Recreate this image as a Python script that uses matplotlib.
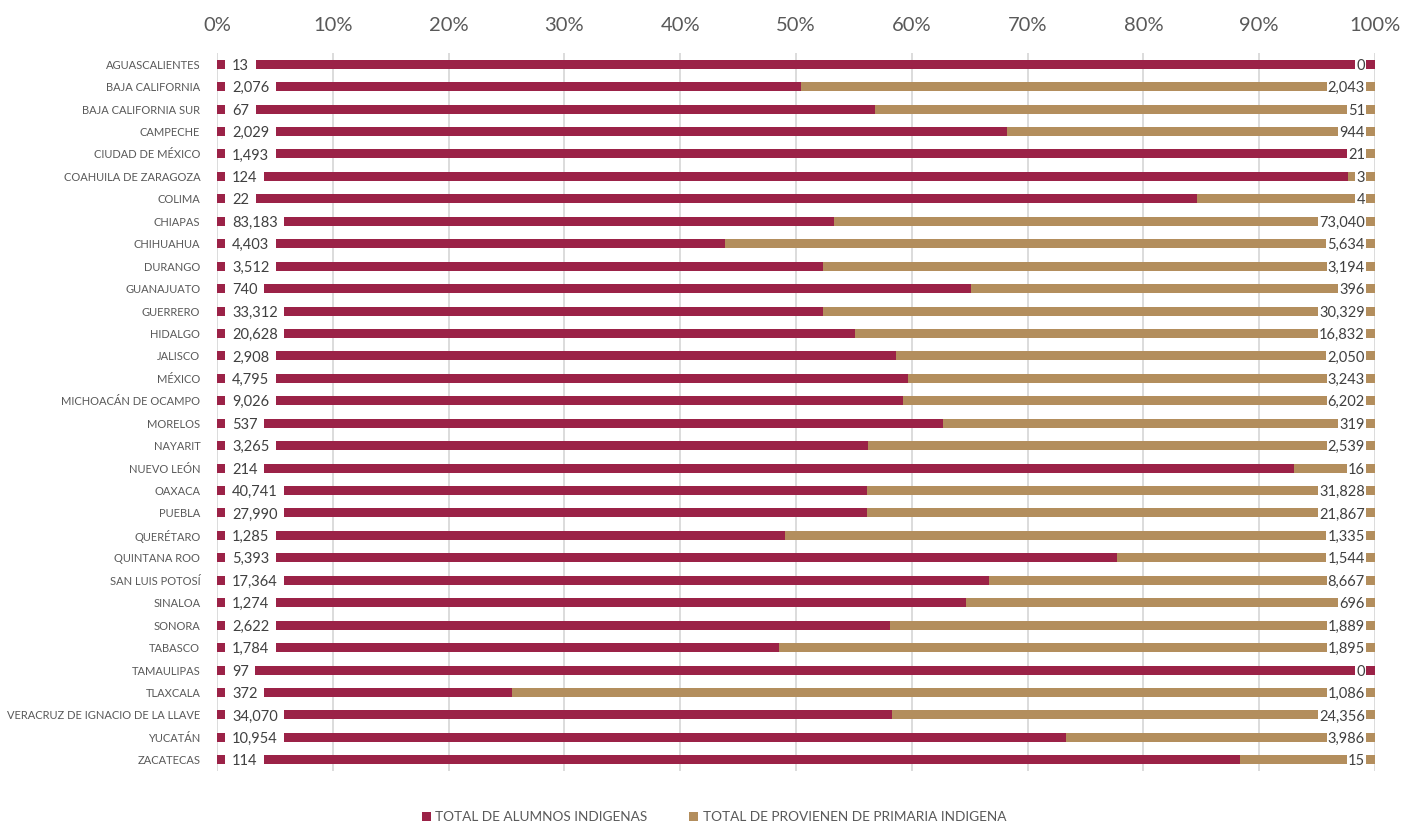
import matplotlib
matplotlib.use("Agg")
import matplotlib.pyplot as plt
from matplotlib.patches import Patch
import numpy as np

states = ["AGUASCALIENTES", "BAJA CALIFORNIA", "BAJA CALIFORNIA SUR", "CAMPECHE",
          "CIUDAD DE MÉXICO", "COAHUILA DE ZARAGOZA", "COLIMA", "CHIAPAS", "CHIHUAHUA",
          "DURANGO", "GUANAJUATO", "GUERRERO", "HIDALGO", "JALISCO", "MÉXICO",
          "MICHOACÁN DE OCAMPO", "MORELOS", "NAYARIT", "NUEVO LEÓN", "OAXACA", "PUEBLA",
          "QUERÉTARO", "QUINTANA ROO", "SAN LUIS POTOSÍ", "SINALOA", "SONORA", "TABASCO",
          "TAMAULIPAS", "TLAXCALA", "VERACRUZ DE IGNACIO DE LA LLAVE", "YUCATÁN", "ZACATECAS"]
alumnos = [13, 2076, 67, 2029, 1493, 124, 22, 83183, 4403, 3512, 740, 33312, 20628, 2908,
           4795, 9026, 537, 3265, 214, 40741, 27990, 1285, 5393, 17364, 1274, 2622, 1784,
           97, 372, 34070, 10954, 114]
primaria = [0, 2043, 51, 944, 21, 3, 4, 73040, 5634, 3194, 396, 30329, 16832, 2050,
            3243, 6202, 319, 2539, 16, 31828, 21867, 1335, 1544, 8667, 696, 1889, 1895,
            0, 1086, 24356, 3986, 15]
series_names = ["TOTAL DE ALUMNOS INDIGENAS", "TOTAL DE PROVIENEN DE PRIMARIA INDIGENA"]
xtick_labels = ["0%", "10%", "20%", "30%", "40%", "50%", "60%", "70%", "80%", "90%", "100%"]

MAROON = "#9B2247"
TAN = "#B38E5D"
GRAY = "#595959"
FONT = ["Lato", "DejaVu Sans"]

a = np.array(alumnos, dtype=float)
p = np.array(primaria, dtype=float)
tot = a + p
pa = a / tot
pp = p / tot

fig = plt.figure(figsize=(14.05, 8.25), dpi=100)
ax = fig.add_axes([217/1405, 1 - 771/825, (1375-217)/1405, (771-53)/825])

y = np.arange(len(states))
h = 0.4
ax.barh(y, pa, height=h, color=MAROON, zorder=2)
ax.barh(y, pp, left=pa, height=h, color=TAN, zorder=2)

for i in range(len(states)):
    ax.annotate(f"{alumnos[i]:,}", xy=(0, y[i]), xytext=(15, 0), textcoords="offset pixels",
                ha="left", va="center_baseline", fontsize=10.5, color="#404040", family=FONT,
                zorder=4,
                bbox=dict(boxstyle="square,pad=0.45", facecolor="white", edgecolor="none"))
    ax.annotate(f"{primaria[i]:,}", xy=(1, y[i]), xytext=(-10, 0), textcoords="offset pixels",
                ha="right", va="center_baseline", fontsize=10.5, color="#404040", family=FONT,
                zorder=4,
                bbox=dict(boxstyle="square,pad=0.08", facecolor="white", edgecolor="none"))

ax.set_xlim(0, 1)
ax.set_ylim(len(states) - 0.5, -0.5)
ax.set_yticks(y)
ax.set_yticklabels(states, fontsize=8.0, color=GRAY, family=FONT)
ax.set_xticks(np.linspace(0, 1, 11))
ax.set_xticklabels(xtick_labels, fontsize=14.5, color=GRAY, family=FONT)
ax.xaxis.tick_top()
ax.tick_params(axis="x", length=0, pad=14)
ax.tick_params(axis="y", length=0, pad=12)
for s in ax.spines.values():
    s.set_visible(False)
ax.grid(axis="x", color="#D9D9D9", linewidth=1.3, zorder=0)
ax.set_axisbelow(True)

handles = [Patch(facecolor=MAROON, edgecolor="none"), Patch(facecolor=TAN, edgecolor="none")]
fig.legend(handles, series_names, loc="center", bbox_to_anchor=(714/1405, 1 - 817/825),
           ncol=2, frameon=False, prop={"family": FONT, "size": 9.8},
           labelcolor=GRAY, handlelength=0.66, handleheight=0.66, handletextpad=0.3,
           columnspacing=3.1)

fig.savefig("out.png", dpi=100)
